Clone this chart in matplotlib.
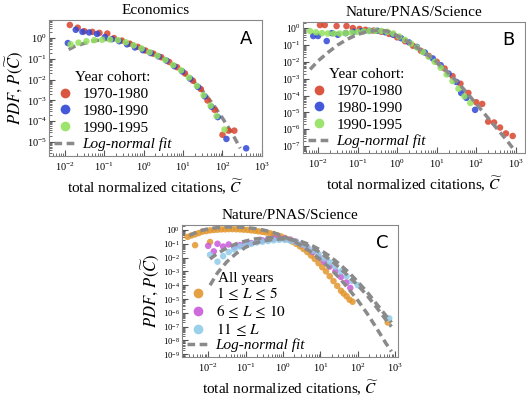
import numpy as np
import matplotlib
matplotlib.use("Agg")
import matplotlib.pyplot as plt
from matplotlib.ticker import LogLocator, NullFormatter
from matplotlib.lines import Line2D

plt.rcParams['font.family'] = ['Liberation Serif', 'DejaVu Serif']
plt.rcParams['mathtext.fontset'] = 'stix'

# ---- Panel A: Economics (log10 values) ----
a_7080_lx = [-1.87, -1.67, -1.5, -1.3, -1.12, -0.92, -0.75, -0.55, -0.35, -0.15, 0.05, 0.25, 0.45,
             0.65, 0.85, 1.05, 1.25, 1.45, 1.62, 1.8, 2.0, 2.15, 2.3]
a_7080_ly = [0.63, 0.5, 0.33, 0.3, 0.25, 0.22, 0.0, -0.12, -0.27, -0.42, -0.6, -0.75, -0.92,
             -1.15, -1.4, -1.7, -2.05, -2.45, -3.0, -3.45, -4.65, -4.45, -4.45]
a_8090_lx = [-1.92, -1.72, -1.55, -1.38, -1.18, -0.98, -0.8, -0.62, -0.42, -0.22, -0.02, 0.18, 0.38,
             0.58, 0.78, 0.98, 1.18, 1.38, 1.55, 1.72, 1.88, 2.1, 2.6]
a_8090_ly = [-0.24, 0.4, 0.3, 0.27, 0.2, 0.05, -0.05, -0.15, -0.3, -0.45, -0.58, -0.72, -0.88,
             -1.08, -1.35, -1.6, -1.95, -2.35, -2.8, -3.3, -3.8, -4.85, -5.3]
a_9095_lx = [-1.85, -1.65, -1.45, -1.25, -1.05, -0.85, -0.65, -0.45, -0.25, -0.05, 0.15, 0.35, 0.55,
             0.75, 0.95, 1.15, 1.35, 1.52, 1.7, 1.85, 2.05]
a_9095_ly = [-0.3, -0.22, -0.15, -0.1, -0.08, -0.07, -0.1, -0.2, -0.35, -0.5, -0.68, -0.85, -1.05,
             -1.3, -1.55, -1.9, -2.3, -2.75, -3.25, -3.75, -4.4]
a_fit_lx = [-1.9, -1.75, -1.5, -1.25, -1.0, -0.75, -0.5, -0.25, 0.0, 0.25, 0.5, 0.75, 1.0, 1.25,
            1.5, 1.75, 2.0, 2.25, 2.45]
a_fit_ly = [-0.55, -0.4, -0.25, -0.13, -0.07, -0.07, -0.15, -0.3, -0.52, -0.75, -1.0, -1.3, -1.65,
            -2.05, -2.55, -3.15, -3.85, -4.6, -5.3]

# ---- Panel B: Nature/PNAS/Science by cohort ----
b_7080_lx = [-1.95, -1.83, -1.53, -1.28, -1.12, -0.95, -0.8, -0.6, -0.4, -0.2, 0.0, 0.2, 0.4, 0.6,
             0.8, 1.0, 1.2, 1.4, 1.6, 1.8, 2.0, 2.15, 2.3, 2.45, 2.6, 2.75, 2.92]
b_7080_ly = [0.18, 0.18, 0.12, 0.12, 0.0, -0.05, -0.1, -0.15, -0.22, -0.35, -0.55, -0.78, -1.05,
             -1.35, -1.65, -2.0, -2.4, -2.85, -3.3, -3.85, -4.4, -4.5, -5.55, -5.6, -5.9, -6.25, -6.4]
b_8090_lx = [-2.12, -2.0, -1.78, -1.65, -1.5, -1.3, -1.1, -0.9, -0.7, -0.5, -0.3, -0.1, 0.1, 0.3,
             0.5, 0.7, 0.9, 1.1, 1.3, 1.5, 1.62, 1.75, 1.97]
b_8090_ly = [-0.47, -0.47, -0.77, -0.3, -0.4, -0.3, -0.22, -0.18, -0.16, -0.16, -0.25, -0.4, -0.6,
             -0.85, -1.12, -1.45, -1.8, -2.2, -2.7, -3.2, -3.85, -4.14, -4.85]
b_9095_lx = [-2.2, -2.05, -1.9, -1.75, -1.6, -1.45, -1.3, -1.15, -1.0, -0.85, -0.7, -0.55, -0.4,
             -0.25, -0.1, 0.05, 0.2, 0.35, 0.5, 0.65, 0.8, 0.95, 1.1, 1.25, 1.4, 1.55, 1.7, 1.85]
b_9095_ly = [-0.18, -0.25, -0.3, -0.32, -0.33, -0.32, -0.3, -0.27, -0.23, -0.2, -0.17, -0.16,
             -0.17, -0.22, -0.32, -0.5, -0.7, -0.92, -1.15, -1.42, -1.7, -2.0, -2.35, -2.75,
             -3.15, -3.6, -4.05, -4.44]
b_fit_lx = [-2.2, -2.0, -1.75, -1.5, -1.25, -1.0, -0.75, -0.5, -0.25, 0.0, 0.25, 0.5, 0.75, 1.0,
            1.25, 1.5, 1.75, 2.0, 2.25, 2.5, 2.75, 2.95]
b_fit_ly = [-2.45, -1.95, -1.45, -1.0, -0.65, -0.38, -0.2, -0.13, -0.18, -0.45, -0.78, -1.15,
            -1.55, -2.0, -2.55, -3.15, -3.8, -4.5, -5.2, -5.9, -6.6, -7.2]

# ---- Panel C: Nature/PNAS/Science by career length L ----
c_l1_lx = [-2.55, -2.45, -2.35, -2.25, -2.15, -2.05, -1.95, -1.85, -1.75, -1.65, -1.55, -1.45,
           -1.35, -1.25, -1.15, -1.05, -0.95, -0.85, -0.75, -0.65, -0.55, -0.45, -0.35, -0.25,
           -0.15, -0.05, 0.05, 0.15, 0.25, 0.35, 0.45, 0.55, 0.65, 0.75, 0.85, 0.95, 1.05,
           1.15, 1.25, 1.35, 1.45, 1.55, 1.62, 1.7, 1.78, 1.86, 2.8, -2.35, -1.95]
c_l1_ly = [-0.5, -0.4, -0.32, -0.22, -0.12, -0.08, -0.03, 0.0, 0.02, 0.04, 0.05, 0.06, 0.06,
           0.05, 0.04, 0.02, 0.0, -0.03, -0.06, -0.1, -0.14, -0.18, -0.24, -0.3, -0.38, -0.47,
           -0.58, -0.7, -0.84, -1.0, -1.18, -1.38, -1.6, -1.85, -2.1, -2.4, -2.7, -3.0, -3.35,
           -3.7, -4.05, -4.4, -4.6, -4.8, -5.05, -5.2, -6.7, -1.1, -0.87]
c_l2_lx = [-2.0, -1.85, -1.75, -1.6, -1.45, -1.3, -1.15, -1.0, -0.85, -0.7, -0.55, -0.4, -0.25,
           -0.1, 0.05, 0.2, 0.35, 0.5, 0.65, 0.8, 0.95, 1.1, 1.25, 1.4, 1.55, 1.7, 1.8]
c_l2_ly = [-1.15, -1.55, -1.0, -1.2, -1.05, -1.25, -1.1, -1.0, -0.95, -0.85, -0.75, -0.68, -0.62,
           -0.6, -0.62, -0.7, -0.85, -1.05, -1.3, -1.6, -1.95, -2.3, -2.65, -3.0, -3.4, -3.8, -4.2]
c_l3_lx = [-1.95, -1.75, -1.6, -1.45, -1.3, -1.15, -1.0, -0.85, -0.7, -0.55, -0.4, -0.25, -0.1,
           0.05, 0.2, 0.35, 0.5, 0.65, 0.8, 0.95, 1.1, 1.25, 1.4, 1.55, 1.7, 1.85, 2.0, 2.84]
c_l3_ly = [-1.8, -2.3, -1.9, -1.6, -1.4, -1.2, -1.1, -1.0, -0.9, -0.85, -0.8, -0.75, -0.72, -0.72,
           -0.78, -0.88, -1.05, -1.25, -1.5, -1.75, -2.05, -2.35, -2.65, -3.0, -3.35, -3.7,
           -4.0, -6.4]
c_fit1_lx = [-2.5, -2.25, -2.0, -1.75, -1.5, -1.25, -1.0, -0.75, -0.5, -0.25, 0.0, 0.25, 0.5,
             0.75, 1.0, 1.25, 1.5, 1.75, 2.0, 2.25, 2.5, 2.75, 2.9]
c_fit1_ly = [-0.4, -0.08, 0.08, 0.17, 0.22, 0.22, 0.18, 0.1, -0.02, -0.2, -0.45, -0.75, -1.15,
             -1.6, -2.15, -2.75, -3.45, -4.25, -5.1, -6.05, -7.1, -8.2, -8.8]
c_fit2_lx = [-1.95, -1.75, -1.5, -1.25, -1.0, -0.75, -0.5, -0.25, 0.0, 0.25, 0.5, 0.75, 1.0,
             1.25, 1.5, 1.75, 2.0, 2.25, 2.5, 2.75, 2.9]
c_fit2_ly = [-2.1, -1.7, -1.3, -1.0, -0.8, -0.65, -0.58, -0.55, -0.6, -0.72, -0.95, -1.25, -1.65,
             -2.15, -2.7, -3.35, -4.0, -4.75, -5.6, -6.5, -7.0]
c_fit3_lx = [-1.95, -1.75, -1.5, -1.25, -1.0, -0.75, -0.5, -0.25, 0.0, 0.25, 0.5, 0.75, 1.0,
             1.25, 1.5, 1.75, 2.0, 2.25, 2.5, 2.75, 2.9]
c_fit3_ly = [-4.0, -3.1, -2.3, -1.7, -1.25, -0.95, -0.78, -0.68, -0.65, -0.7, -0.85, -1.1, -1.45,
             -1.9, -2.45, -3.05, -3.75, -4.5, -5.35, -6.2, -6.7]

red, blue, green = '#d8432c', '#3046d6', '#93e25e'
orange, purple, cyan = '#e2972e', '#c95ad9', '#8fcbe8'
fitgray = '#8a8a8a'


def p(v):
    return 10 ** np.array(v)


def style_axis(ax, xlog, ylog, letter, title, ysize=7.5):
    ax.set_xscale('log')
    ax.set_yscale('log')
    ax.set_xlim(p(xlog[0]), p(xlog[1]))
    ax.set_ylim(p(ylog[0]), p(ylog[1]))
    ax.xaxis.set_major_locator(LogLocator(base=10, numticks=20))
    ax.yaxis.set_major_locator(LogLocator(base=10, numticks=20))
    ax.xaxis.set_minor_locator(LogLocator(base=10, subs=np.arange(2, 10), numticks=20))
    ax.yaxis.set_minor_locator(LogLocator(base=10, subs=np.arange(2, 10), numticks=20))
    ax.xaxis.set_minor_formatter(NullFormatter())
    ax.yaxis.set_minor_formatter(NullFormatter())
    ax.tick_params(which='both', direction='in', colors='#555', labelcolor='black')
    ax.tick_params(axis='x', labelsize=7.5, pad=3)
    ax.tick_params(axis='y', labelsize=ysize, pad=1.5)
    ax.tick_params(which='major', length=4)
    ax.tick_params(which='minor', length=2)
    for s in ax.spines.values():
        s.set_color('#888')
    ax.set_title(title, fontsize=11, pad=4)
    ax.text(0.955, 0.93, letter, transform=ax.transAxes, ha='right', va='top',
            fontsize=13, family='DejaVu Sans')
    ax.set_xlabel(r'total normalized citations, $\widetilde{C}$', fontsize=11, labelpad=4)
    ax.set_ylabel(r'$PDF,\, P(\widetilde{C})$', fontsize=12, labelpad=1)


fig = plt.figure(figsize=(5.26, 4.0), dpi=100)
ax_a = fig.add_axes([0.093, 0.61, 0.405, 0.34])
ax_b = fig.add_axes([0.576, 0.6175, 0.422, 0.3275])
ax_c = fig.add_axes([0.346, 0.1075, 0.411, 0.33])

fitkw = dict(color=fitgray, lw=2.5, dashes=(2.2, 1.3), solid_capstyle='butt')
dotkw = dict(s=22, alpha=0.85, edgecolors='none')

# A
ax_a.plot(p(a_fit_lx), p(a_fit_ly), zorder=1, **fitkw)
ax_a.scatter(p(a_7080_lx), p(a_7080_ly), color=red, zorder=2, **dotkw)
ax_a.scatter(p(a_8090_lx), p(a_8090_ly), color=blue, zorder=2, **dotkw)
ax_a.scatter(p(a_9095_lx), p(a_9095_ly), color=green, zorder=2, **dotkw)
style_axis(ax_a, (-2.4, 3.0), (-5.67, 0.87), 'A', 'Economics')

# B
ax_b.scatter(p(b_7080_lx), p(b_7080_ly), color=red, zorder=2, **dotkw)
ax_b.scatter(p(b_8090_lx), p(b_8090_ly), color=blue, zorder=2, **dotkw)
ax_b.scatter(p(b_9095_lx), p(b_9095_ly), color=green, zorder=2, **dotkw)
ax_b.plot(p(b_fit_lx), p(b_fit_ly), zorder=3, **fitkw)
style_axis(ax_b, (-2.38, 3.23), (-7.41, 0.36), 'B', 'Nature/PNAS/Science', ysize=7)
ax_b.set_ylabel('')

# C
ax_c.scatter(p(c_l1_lx), p(c_l1_ly), color=orange, zorder=2, **dotkw)
ax_c.scatter(p(c_l2_lx), p(c_l2_ly), color=purple, zorder=2, **dotkw)
ax_c.scatter(p(c_l3_lx), p(c_l3_ly), color=cyan, zorder=2, **dotkw)
ax_c.plot(p(c_fit1_lx), p(c_fit1_ly), zorder=3, **fitkw)
ax_c.plot(p(c_fit2_lx), p(c_fit2_ly), zorder=3, **fitkw)
ax_c.plot(p(c_fit3_lx), p(c_fit3_ly), zorder=3, **fitkw)
style_axis(ax_c, (-2.7, 3.08), (-9.2, 0.36), 'C', 'Nature/PNAS/Science', ysize=6.3)


def legend(ax, title, labels, colors, spacing):
    handles = [Line2D([], [], ls='none', marker='o', ms=7, color=c, alpha=0.9, mec='none')
               for c in colors]
    handles.append(Line2D([], [], color=fitgray, lw=2.5, dashes=(2.2, 1.3)))
    leg = ax.legend(handles, labels + ['Log-normal fit'], title=title, loc='lower left',
                    frameon=False, fontsize=11, title_fontsize=11, handlelength=1.5,
                    handletextpad=0.4, labelspacing=spacing, borderaxespad=0.1,
                    borderpad=0.2)
    leg.get_texts()[-1].set_style('italic')
    return leg


legend(ax_a, 'Year cohort:', ['1970-1980', '1980-1990', '1990-1995'], [red, blue, green], 0.2)
legend(ax_b, 'Year cohort:', ['1970-1980', '1980-1990', '1990-1995'], [red, blue, green], 0.2)
legend(ax_c, 'All years',
       [r'$1\,\leq\,L\,\leq\,5$', r'$6\,\leq\,L\,\leq\,10$', r'$11\,\leq\,L$'],
       [orange, purple, cyan], 0.05)

fig.savefig('out.png', dpi=100)
